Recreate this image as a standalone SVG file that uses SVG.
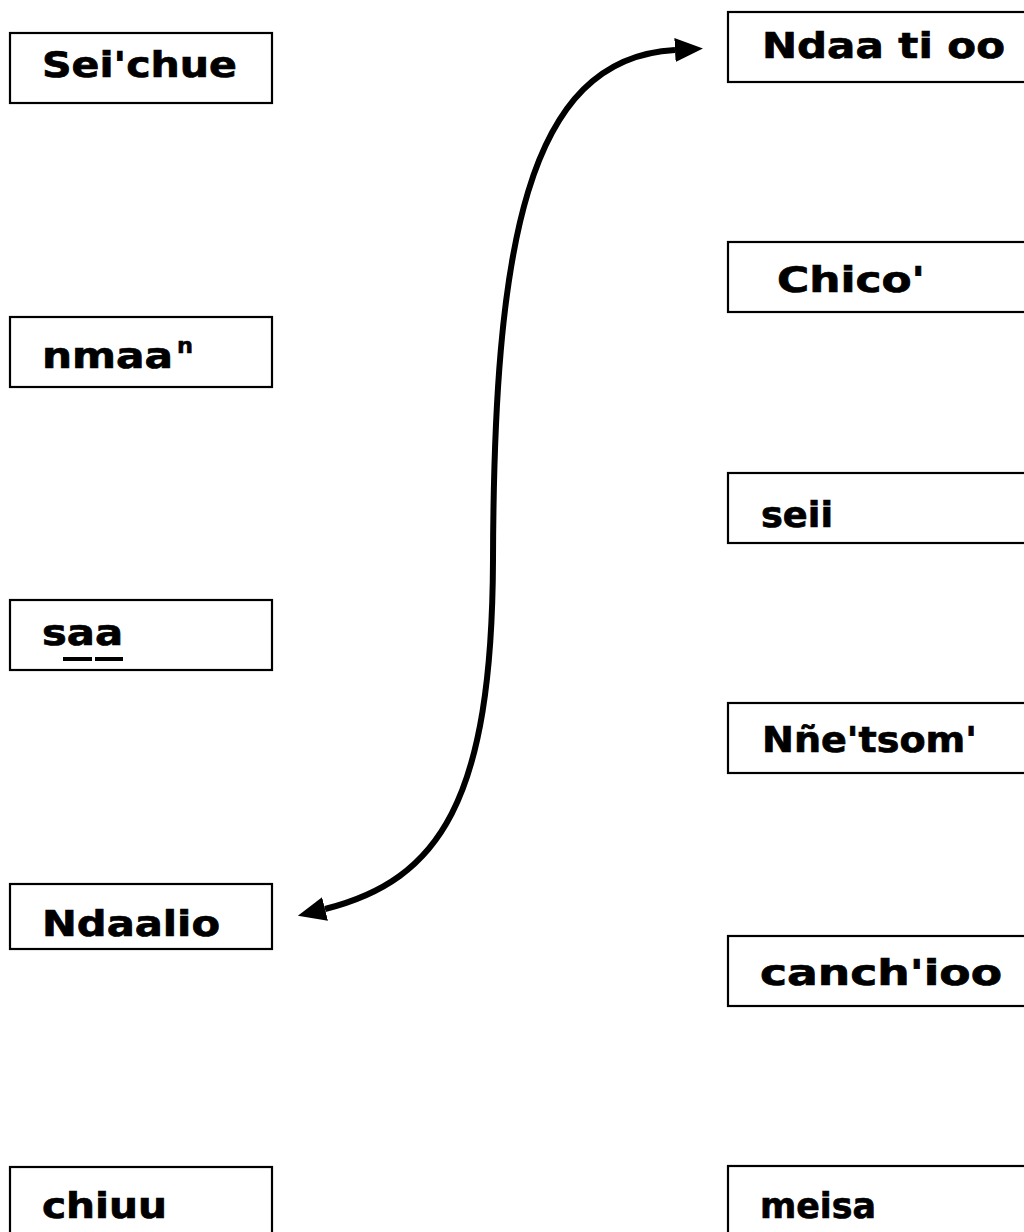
<svg xmlns="http://www.w3.org/2000/svg" width="1024" height="1232" viewBox="0 0 1024 1232">
<style>
.box{fill:#fff;stroke:#000;stroke-width:2.2}
.lbl{font-family:"DejaVu Sans","Liberation Sans",sans-serif;font-weight:bold;font-size:36px;fill:#000;stroke:#000;stroke-width:0.7}
.sup{font-family:"DejaVu Sans","Liberation Sans",sans-serif;font-weight:bold;font-size:21px;fill:#000;stroke:#000;stroke-width:0.5}
.conn{fill:none;stroke:#000;stroke-width:6}
</style>
<defs>
<marker id="ah" markerUnits="userSpaceOnUse" markerWidth="32" markerHeight="28" viewBox="0 -14 32 28" refX="0" refY="0" orient="auto-start-reverse">
<path d="M0,-12 L28,0 L0,12 z" fill="#000"/>
</marker>
</defs>
<rect width="1024" height="1232" fill="#fff"/>
<g id="n-seichue"><rect class="box" x="10" y="33" width="262" height="70"/><text class="lbl" x="42" y="77" textLength="195" lengthAdjust="spacingAndGlyphs">Sei'chue</text></g>
<g id="n-nmaan"><rect class="box" x="10" y="317" width="262" height="70"/><text class="lbl" x="42" y="368" textLength="131" lengthAdjust="spacingAndGlyphs">nmaa</text><text class="sup" x="177" y="353" textLength="16" lengthAdjust="spacingAndGlyphs">n</text></g>
<g id="n-saa"><rect class="box" x="10" y="600" width="262" height="70"/><text class="lbl" x="42" y="645" textLength="81" lengthAdjust="spacingAndGlyphs">saa</text><rect x="63" y="657" width="29" height="4" fill="#000"/><rect x="95" y="657" width="28" height="4" fill="#000"/></g>
<g id="n-ndaalio"><rect class="box" x="10" y="884" width="262" height="65"/><text class="lbl" x="42" y="936" textLength="178" lengthAdjust="spacingAndGlyphs">Ndaalio</text></g>
<g id="n-chiuu"><rect class="box" x="10" y="1167" width="262" height="80"/><text class="lbl" x="42" y="1218" textLength="125" lengthAdjust="spacingAndGlyphs">chiuu</text></g>
<g id="n-ndaatioo"><rect class="box" x="728" y="12" width="320" height="70"/><text class="lbl" x="762" y="58" textLength="243" lengthAdjust="spacingAndGlyphs">Ndaa ti oo</text></g>
<g id="n-chico"><rect class="box" x="728" y="242" width="320" height="70"/><text class="lbl" x="777" y="292" textLength="148" lengthAdjust="spacingAndGlyphs">Chico'</text></g>
<g id="n-seii"><rect class="box" x="728" y="473" width="320" height="70"/><text class="lbl" x="761" y="527" textLength="72" lengthAdjust="spacingAndGlyphs">seii</text></g>
<g id="n-nnetsom"><rect class="box" x="728" y="703" width="320" height="70"/><text class="lbl" x="762" y="752" textLength="215" lengthAdjust="spacingAndGlyphs">Nñe'tsom'</text></g>
<g id="n-canchioo"><rect class="box" x="728" y="936" width="320" height="70"/><text class="lbl" x="760" y="985" textLength="242" lengthAdjust="spacingAndGlyphs">canch'ioo</text></g>
<g id="n-meisa"><rect class="box" x="728" y="1166" width="320" height="80"/><text class="lbl" x="760" y="1218" textLength="116" lengthAdjust="spacingAndGlyphs">meisa</text></g>
<g id="connectors">
<path class="conn" d="M325,909 C440,880 492,800 493,560 C494,250 525,58 675,50" marker-start="url(#ah)" marker-end="url(#ah)"/>
</g>
</svg>
